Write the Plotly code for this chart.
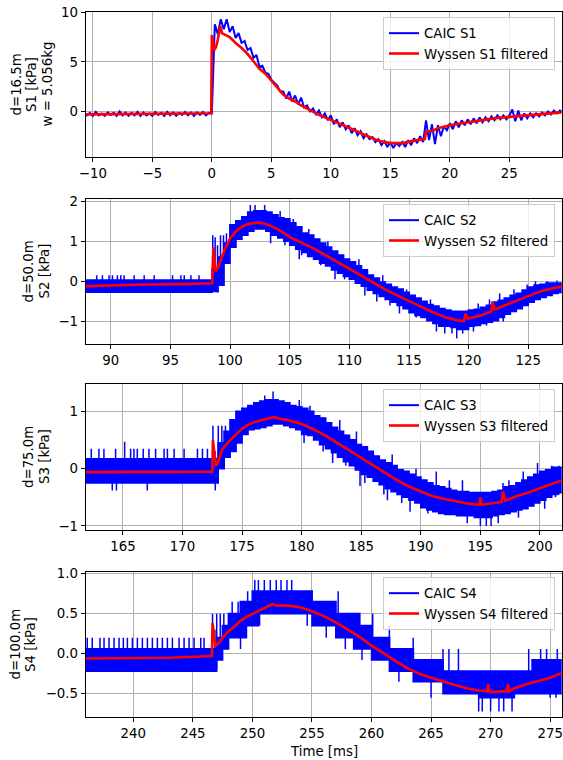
import numpy as np
import plotly.graph_objects as go

# ---------------- data ----------------
# Panel 1: CAIC S1 raw signal, sampled every 0.25 ms from -10.75 ms
S1_T0, S1_DT = -10.75, 0.25
S1_CAIC = [
    -0.1, -0.4, -0.15, -0.45, -0.05, -0.4, -0.2, -0.45, -0.1, -0.35,
    -0.15, -0.45, 0.0, -0.4, -0.1, -0.45, -0.15, -0.4, -0.05, -0.45,
    -0.1, -0.4, -0.2, -0.45, -0.05, -0.35, -0.15, -0.45, -0.05, -0.4,
    -0.1, -0.45, -0.15, -0.35, -0.05, -0.4, -0.1, -0.45, -0.1, -0.35,
    -0.05, -0.4, -0.15,
    -0.2,
    8.8, 7.8, 9.3, 8.3, 9.3, 8.0, 8.6, 7.4, 7.9, 6.9,
    7.1, 6.2, 6.4, 5.4, 5.7, 4.5, 4.6, 3.9, 3.8, 3.2,
    2.9, 2.6, 2.0, 2.0, 1.3, 2.0, 1.0, 1.6, 0.7, 1.4,
    0.4, 0.6, 0.0, 0.3, -0.3, 0.1, -0.6, -0.2, -0.9, -0.4,
    -1.3, -0.8, -1.6, -1.1, -1.8, -1.4, -2.2, -1.7, -2.4, -2.0,
    -2.7, -2.3, -2.8, -2.6, -3.1, -2.8, -3.4, -3.0, -3.6, -3.1,
    -3.7, -3.2, -3.5, -3.1, -3.6, -2.9, -3.4, -2.7, -3.2, -2.5,
    -3.1, -0.9, -2.9, -1.3, -3.3, -1.4, -2.5, -1.5, -1.9, -1.2,
    -1.8, -1.0, -1.6, -0.9, -1.4, -0.8, -1.3, -0.7, -1.2, -0.6,
    -1.1, -0.6, -1.0, -0.5, -0.9, -0.4, -0.8, -0.4, -0.8, -0.4,
    0.2, -1.0, 0.1, -0.9, -0.2, -0.7, -0.2, -0.6, -0.2, -0.5,
    -0.1, -0.4, 0.0, -0.3, 0.1, -0.2, 0.1, -0.1,
]
S1_WYS_T = [-10.6, -8, -5, -2, -0.05, 0.0, 0.1, 0.2, 0.35, 0.5, 0.7, 0.85, 1.0,
            1.5, 2.0, 2.5, 3.0, 3.5, 4.0, 4.5, 5.0, 5.5, 6.0, 6.5, 7.0, 7.5, 8.0,
            8.5, 9.0, 10.0, 11.0, 12.0, 13.0, 14.0, 15.0, 16.0, 17.0, 17.9, 18.0,
            18.5, 19.0, 20.0, 21.0, 22.0, 23.0, 24.0, 25.0, 26.0, 27.0, 28.0, 29.4]
S1_WYS = [-0.3, -0.28, -0.25, -0.22, -0.18, 7.7, 6.8, 6.2, 6.5, 7.2, 8.6, 7.9, 7.8,
          7.5, 6.9, 6.4, 5.8, 5.0, 4.3, 3.8, 3.1, 2.4, 1.7, 1.3, 1.0, 0.6, 0.3,
          0.0, -0.35, -0.85, -1.35, -1.9, -2.45, -2.95, -3.2, -3.2, -2.95, -2.8, -2.0,
          -2.0, -1.7, -1.4, -1.2, -1.0, -0.8, -0.65, -0.55, -0.45, -0.35, -0.3, -0.1]

# Panel 2: CAIC S2 band (upper / lower envelope every 0.5 ms from 87.5 ms)
S2_T0, S2_DT = 87.5, 0.5
S2_CAIC_HI = [
    0.03, 0.03, 0.03, 0.03, 0.03, 0.03, 0.03, 0.03, 0.03, 0.03, 0.03,
    0.03, 0.03, 0.03, 0.03, 0.03, 0.03, 0.03, 0.03, 0.03, 0.03, 0.03,
    0.3, 0.6, 0.95, 1.4, 1.5, 1.6, 1.72, 1.75, 1.75, 1.72, 1.65, 1.58,
    1.55, 1.45, 1.35, 1.2, 1.15, 1.05, 0.95, 0.85, 0.75, 0.65, 0.55, 0.48,
    0.38, 0.28, 0.15, 0.08, -0.02, -0.08, -0.15, -0.2, -0.28, -0.35, -0.42, -0.5,
    -0.58, -0.62, -0.68, -0.72, -0.75, -0.75, -0.75, -0.72, -0.7, -0.65, -0.6, -0.52,
    -0.48, -0.42, -0.35, -0.3, -0.22, -0.15, -0.1, -0.08, -0.05, -0.05, -0.05, -0.05,
]
S2_CAIC_LO = [
    -0.27, -0.27, -0.27, -0.27, -0.27, -0.27, -0.27, -0.27, -0.27, -0.27, -0.27,
    -0.27, -0.27, -0.27, -0.27, -0.27, -0.27, -0.27, -0.27, -0.27, -0.27, -0.27,
    -0.25, -0.1, 0.45, 0.85, 1.05, 1.15, 1.25, 1.3, 1.3, 1.25, 1.15, 1.08,
    1.0, 0.9, 0.8, 0.72, 0.62, 0.55, 0.45, 0.38, 0.28, 0.2, 0.12, 0.05,
    -0.05, -0.12, -0.22, -0.3, -0.38, -0.45, -0.52, -0.6, -0.68, -0.78, -0.85, -0.9,
    -0.98, -1.05, -1.12, -1.12, -1.15, -1.2, -1.2, -1.12, -1.1, -1.05, -1.02, -0.98,
    -0.9, -0.82, -0.75, -0.68, -0.6, -0.52, -0.45, -0.4, -0.35, -0.3, -0.28, -0.28,
]
# isolated raw-signal excursions: time, low end, high end
S2_SPIKE_T = [88.82, 89.3, 89.86, 90.14, 90.56, 90.84, 91.12, 91.96, 92.8, 93.64,
              95.18, 95.88, 96.16, 96.72, 97.4,
              98.55, 98.75, 98.95, 99.2, 99.45, 99.7,
              101.7, 102.1, 102.9, 104.6, 106.0, 107.6, 109.6, 113.4, 115.6,
              118.6, 119.0, 119.5, 120.4, 121.5, 121.75, 124.9, 125.6, 126.6, 127.4,
              104.2, 105.3, 106.6, 108.2, 110.8, 112.8, 114.8, 116.8, 120.8, 122.6, 123.8,
              103.4, 105.8, 108.8, 111.3, 112.3, 114.2, 117.3, 118.0, 122.9]
S2_SPIKE_LO = [0.0, 0.0, 0.0, 0.0, 0.0, 0.0, 0.0, 0.0, 0.0, 0.0,
               0.0, 0.0, 0.0, 0.0, 0.0,
               -0.25, -0.25, -0.28, 0.2, 0.4, 0.6,
               1.6, 1.6, 1.6, 0.9, 0.65, 0.4, 0.05, -0.6, -0.9,
               -1.3, -1.42, -1.3, -1.25, -1.1, -0.8, -0.3, -0.3, -0.2, -0.2,
               1.3, 1.2, 1.0, 0.7, 0.3, -0.1, -0.45, -0.7, -0.9, -0.7, -0.5,
               0.95, 0.55, 0.05, -0.35, -0.5, -0.8, -1.25, -1.3, -1.0]
S2_SPIKE_HI = [0.15, 0.15, 0.15, 0.15, 0.15, 0.15, 0.15, 0.15, 0.15, 0.15,
               0.15, 0.15, 0.15, 0.15, 0.15,
               1.15, 1.1, 0.9, 1.15, 1.15, 1.2,
               1.9, 1.9, 1.9, 1.3, 1.0, 0.7, 0.4, -0.3, -0.55,
               -1.0, -1.0, -1.0, -0.9, -0.8, -0.45, -0.08, 0.0, 0.0, 0.02,
               1.75, 1.55, 1.3, 1.0, 0.55, 0.15, -0.2, -0.45, -0.55, -0.3, -0.2,
               1.3, 0.9, 0.35, -0.05, -0.2, -0.5, -0.95, -1.0, -0.75]
S2_WYS_T = [87.9, 90, 93, 96, 98.5, 98.6, 98.8, 99.0, 99.5, 100, 100.5, 101, 101.5,
            102, 102.5, 103, 104, 105, 106, 107, 108, 109, 110, 111, 112, 113, 114,
            115, 116, 117, 118, 119, 119.6, 119.75, 119.9, 121, 121.9, 122.0, 122.2,
            123, 124, 125, 126, 127, 127.8]
S2_WYS = [-0.12, -0.1, -0.08, -0.07, -0.05, 0.85, 0.25, 0.35, 0.75, 1.07, 1.25, 1.36, 1.43,
          1.45, 1.46, 1.43, 1.3, 1.1, 0.96, 0.82, 0.65, 0.48, 0.3, 0.13, -0.03, -0.2, -0.35,
          -0.5, -0.63, -0.77, -0.89, -0.97, -0.99, -0.8, -0.93, -0.85, -0.75, -0.52, -0.7,
          -0.6, -0.48, -0.35, -0.25, -0.18, -0.13]

# Panel 3: CAIC S3 band (every 0.5 ms from 161.5 ms)
S3_T0, S3_DT = 161.5, 0.5
S3_CAIC_HI = [
    0.17, 0.17, 0.17, 0.17, 0.17, 0.17, 0.17, 0.17, 0.17, 0.17, 0.17,
    0.17, 0.17, 0.17, 0.17, 0.17, 0.17, 0.17, 0.17, 0.17, 0.17, 0.17,
    0.17, 0.45, 0.65, 0.85, 1.0, 1.05, 1.1, 1.15, 1.18, 1.2, 1.2, 1.18,
    1.15, 1.1, 1.08, 1.05, 1.0, 0.92, 0.88, 0.8, 0.72, 0.65, 0.58, 0.5,
    0.42, 0.38, 0.3, 0.22, 0.15, 0.1, 0.05, -0.02, -0.05, -0.1, -0.15, -0.2,
    -0.25, -0.3, -0.32, -0.35, -0.38, -0.4, -0.4, -0.42, -0.42, -0.42, -0.42, -0.4,
    -0.38, -0.32, -0.3, -0.25, -0.2, -0.15, -0.1, -0.05, -0.02, 0.02, 0.02, 0.02,
]
S3_CAIC_LO = [
    -0.25, -0.25, -0.25, -0.25, -0.25, -0.25, -0.25, -0.25, -0.25, -0.25, -0.25,
    -0.25, -0.25, -0.25, -0.25, -0.25, -0.25, -0.25, -0.25, -0.25, -0.25, -0.25,
    -0.25, 0.0, 0.2, 0.3, 0.45, 0.6, 0.68, 0.7, 0.72, 0.75, 0.78, 0.78,
    0.75, 0.72, 0.68, 0.6, 0.58, 0.5, 0.42, 0.35, 0.28, 0.2, 0.12, 0.05,
    -0.02, -0.1, -0.15, -0.22, -0.28, -0.35, -0.4, -0.45, -0.5, -0.55, -0.6, -0.68,
    -0.72, -0.75, -0.78, -0.8, -0.8, -0.82, -0.82, -0.82, -0.85, -0.85, -0.85, -0.82,
    -0.8, -0.78, -0.75, -0.72, -0.7, -0.65, -0.6, -0.55, -0.5, -0.45, -0.42, -0.42,
]
S3_SPIKE_T = [162.34, 162.98, 163.4, 164.38, 165.14, 165.64, 165.92, 166.2, 166.7,
              167.18, 167.74, 168.45, 168.73, 169.29, 170.13, 171.25, 171.67, 172.09,
              164.1, 164.45, 167.04,
              172.55, 172.75, 173.0, 173.3, 173.6,
              176.9, 177.6, 181.8, 183.7, 185.3, 186.9, 188.4, 189.6, 190.6, 191.3,
              192.4, 195.0, 195.5, 195.9, 196.5, 196.9, 197.4, 201.0, 201.3, 201.6,
              179.8, 180.7, 183.2, 184.6, 187.6, 193.5, 198.6, 199.8,
              180.2, 182.6, 184.9, 187.2, 189.1, 193.9, 198.2, 200.4]
S3_SPIKE_LO = [0.1, 0.1, 0.1, 0.1, 0.1, 0.1, 0.1, 0.1, 0.1,
               0.1, 0.1, 0.1, 0.1, 0.1, 0.1, 0.1, 0.1, 0.1,
               -0.38, -0.38, -0.38,
               -0.25, -0.38, 0.0, 0.1, 0.2,
               1.0, 1.0, 0.3, 0.05, -0.25, -0.45, -0.6, -0.5, -0.78, -0.7,
               -0.75, -1.0, -1.0, -1.0, -0.95, -0.6, -0.7, -0.4, -0.5, -0.45,
               0.8, 0.8, 0.5, 0.3, -0.1, -0.5, -0.3, -0.2,
               0.45, 0.1, -0.3, -0.55, -0.75, -0.95, -0.85, -0.7]
S3_SPIKE_HI = [0.35, 0.35, 0.35, 0.35, 0.47, 0.35, 0.35, 0.35, 0.35,
               0.35, 0.35, 0.35, 0.35, 0.35, 0.35, 0.35, 0.35, 0.35,
               -0.1, -0.1, -0.1,
               0.75, 0.3, 0.75, 0.75, 0.75,
               1.28, 1.35, 0.9, 0.6, 0.2, 0.1, -0.2, 0.0, -0.3, -0.05,
               -0.2, -0.5, -0.6, -0.6, -0.6, -0.25, -0.2, 0.05, -0.1, 0.05,
               1.2, 1.1, 0.85, 0.65, 0.25, -0.2, -0.05, 0.1,
               0.7, 0.4, 0.0, -0.3, -0.45, -0.7, -0.6, -0.4]
S3_WYS_T = [161.8, 165, 168, 172.5, 172.55, 172.8, 173.0, 173.3, 173.5, 174, 174.5, 175,
            175.5, 176, 177, 177.7, 178, 179, 180, 181, 182, 183, 184, 185, 186, 187,
            188, 189, 190, 191, 192, 193, 194, 194.9, 195.0, 195.1, 196, 196.8, 196.9,
            197.1, 198, 199, 200, 201, 201.9]
S3_WYS = [-0.06, -0.06, -0.05, -0.05, 0.5, 0.05, 0.12, 0.33, 0.38, 0.5, 0.6, 0.7,
          0.77, 0.81, 0.87, 0.9, 0.88, 0.84, 0.78, 0.69, 0.58, 0.45, 0.32, 0.19, 0.05, -0.08,
          -0.2, -0.31, -0.4, -0.48, -0.53, -0.57, -0.61, -0.63, -0.5, -0.63, -0.61, -0.58, -0.4,
          -0.56, -0.48, -0.42, -0.34, -0.26, -0.2]

# Panel 4: CAIC S4 band (every 0.5 ms from 235.5 ms)
S4_T0, S4_DT = 235.5, 0.5
S4_CAIC_HI = [
    0.06, 0.06, 0.06, 0.06, 0.06, 0.06, 0.06, 0.06, 0.06, 0.06, 0.06,
    0.06, 0.06, 0.06, 0.06, 0.06, 0.06, 0.06, 0.06, 0.06, 0.06, 0.06,
    0.06, 0.2, 0.35, 0.5, 0.5, 0.65, 0.65, 0.78, 0.78, 0.78, 0.78, 0.78,
    0.78, 0.78, 0.78, 0.78, 0.78, 0.65, 0.65, 0.65, 0.65, 0.5, 0.5, 0.5,
    0.5, 0.35, 0.35, 0.2, 0.2, 0.2, 0.06, 0.06, 0.06, 0.06, -0.08, -0.08,
    -0.08, -0.08, -0.08, -0.22, -0.22, -0.22, -0.22, -0.22, -0.22, -0.22, -0.22, -0.22,
    -0.22, -0.22, -0.22, -0.22, -0.22, -0.22, -0.08, -0.08, -0.08, -0.08, -0.08, -0.08,
]
S4_CAIC_LO = [
    -0.22, -0.22, -0.22, -0.22, -0.22, -0.22, -0.22, -0.22, -0.22, -0.22, -0.22,
    -0.22, -0.22, -0.22, -0.22, -0.22, -0.22, -0.22, -0.22, -0.22, -0.22, -0.22,
    -0.22, -0.08, 0.06, 0.2, 0.2, 0.2, 0.35, 0.35, 0.5, 0.5, 0.5, 0.5,
    0.5, 0.5, 0.5, 0.5, 0.5, 0.35, 0.35, 0.35, 0.35, 0.2, 0.2, 0.2,
    0.06, 0.06, 0.06, -0.08, -0.08, -0.08, -0.22, -0.22, -0.22, -0.22, -0.35, -0.35,
    -0.35, -0.35, -0.35, -0.5, -0.5, -0.5, -0.5, -0.5, -0.5, -0.55, -0.55, -0.55,
    -0.55, -0.55, -0.55, -0.5, -0.5, -0.5, -0.5, -0.5, -0.5, -0.5, -0.5, -0.5,
]
S4_SPIKE_T = [236.13, 236.55, 237.2, 237.54, 237.96, 238.38, 238.8, 239.16, 239.5,
              239.92, 240.34, 240.76, 241.18, 241.6, 242.02, 242.44, 242.86, 243.28,
              243.84, 244.26, 244.68, 245.1, 245.66, 245.94,
              246.65, 246.85, 247.0, 247.3, 247.6, 248.3, 248.8, 249.6,
              250.2, 250.5, 251.0, 251.5, 252.0, 252.4, 252.9, 253.3,
              249.0, 250.6, 254.6, 256.2, 257.8, 259.2,
              257.2, 260.1, 261.5, 263.5, 266.0, 266.5, 267.3,
              262.3, 265.0, 269.0, 269.3, 270.0, 270.7, 271.1, 271.8, 275.0, 275.5,
              273.2, 274.2, 274.7, 275.6]
S4_SPIKE_LO = [0.0] * 24 + [
    -0.22, -0.22, -0.2, 0.06, 0.06, 0.2, 0.2, 0.35,
    0.5, 0.5, 0.5, 0.5, 0.5, 0.5, 0.5, 0.5,
    0.06, 0.35, 0.35, 0.2, 0.06, -0.08,
    0.5, 0.2, 0.06, -0.08, -0.22, -0.22, -0.22,
    -0.35, -0.55, -0.72, -0.72, -0.72, -0.72, -0.72, -0.72, -0.55, -0.55,
    -0.3, -0.3, -0.3, -0.3]
S4_SPIKE_HI = [0.2] * 24 + [
    0.5, 0.3, 0.5, 0.5, 0.5, 0.65, 0.65, 0.78,
    0.92, 0.92, 0.92, 0.92, 0.92, 0.92, 0.92, 0.92,
    0.5, 0.6, 0.6, 0.5, 0.35, 0.2,
    0.78, 0.5, 0.35, 0.2, 0.06, 0.06, 0.06,
    -0.08, -0.2, -0.35, -0.35, -0.35, -0.35, -0.35, -0.35, -0.3, -0.3,
    0.06, 0.06, 0.06, 0.06]
S4_WYS_T = [236, 240, 243, 246.6, 246.65, 246.9, 247.1, 247.5, 248, 248.5, 249, 249.5,
            250, 250.5, 251, 251.7, 252, 253, 254, 255, 256, 257, 258, 259, 260, 261,
            262, 263, 264, 265, 266, 267, 268, 269, 269.7, 269.8, 269.9, 270, 271,
            271.35, 271.45, 271.55, 272, 273, 274, 275, 276]
S4_WYS = [-0.06, -0.05, -0.05, -0.03, 0.38, 0.1, 0.12, 0.2, 0.28, 0.34, 0.41, 0.46,
          0.5, 0.54, 0.57, 0.62, 0.6, 0.6, 0.58, 0.53, 0.47, 0.39, 0.3, 0.21, 0.1, 0.0,
          -0.09, -0.18, -0.25, -0.3, -0.35, -0.39, -0.43, -0.46, -0.47, -0.38, -0.47, -0.48,
          -0.47, -0.47, -0.38, -0.47, -0.43, -0.38, -0.34, -0.3, -0.24]

NAMES = ["S1", "S2", "S3", "S4"]
YLABEL_LINES = [["d=16.5m", "S1 [kPa]", "w = 5.056kg"], ["d=50.0m", "S2 [kPa]"],
                ["d=75.0m", "S3 [kPa]"], ["d=100.0m", "S4 [kPa]"]]
XRANGES = [[-10.6, 29.4], [87.9, 127.8], [161.87, 201.83], [236.0, 275.97]]
YRANGES = [[-4.6, 10.03], [-1.56, 2.05], [-1.07, 1.48], [-0.79, 1.02]]
YDTICK = [5, 1, 1, 0.5]
YFMT = ["d", "d", "d", ".1f"]

# ---------------- figure ----------------
W, H = 563, 760
FONT = "DejaVu Sans"
FS = 13.33
BLUE, RED = "#0000ff", "#ff0000"
XPIX = (85.7, 561.7)
YPIX = [(12, 157), (199, 344), (384, 530), (572, 717)]
YLAB_X = [[16, 31.5, 47], [28, 44], [28, 44], [15, 30.5]]

fig = go.Figure()


def grid_t(t0, dt, n):
    return t0 + dt * np.arange(n)


def segments(ts, lo, hi):
    xs, ys = [], []
    for t, a, b in zip(ts, lo, hi):
        xs += [t, t, None]
        ys += [a, b, None]
    return xs, ys


# panel 1
t1 = grid_t(S1_T0, S1_DT, len(S1_CAIC))
fig.add_trace(go.Scatter(x=t1, y=S1_CAIC, mode="lines", name="CAIC S1",
                         line=dict(color=BLUE, width=2), legend="legend",
                         xaxis="x", yaxis="y"))
fig.add_trace(go.Scatter(x=S1_WYS_T, y=S1_WYS, mode="lines", name="Wyssen S1 filtered",
                         line=dict(color=RED, width=2.6), legend="legend",
                         xaxis="x", yaxis="y"))

bands = [
    (S2_T0, S2_DT, S2_CAIC_HI, S2_CAIC_LO, S2_SPIKE_T, S2_SPIKE_LO, S2_SPIKE_HI, S2_WYS_T, S2_WYS),
    (S3_T0, S3_DT, S3_CAIC_HI, S3_CAIC_LO, S3_SPIKE_T, S3_SPIKE_LO, S3_SPIKE_HI, S3_WYS_T, S3_WYS),
    (S4_T0, S4_DT, S4_CAIC_HI, S4_CAIC_LO, S4_SPIKE_T, S4_SPIKE_LO, S4_SPIKE_HI, S4_WYS_T, S4_WYS),
]
for k, (t0, dt, hi, lo, st, slo, shi, wt, wv) in enumerate(bands):
    i = k + 1
    xs, ys = "x" + str(i + 1), "y" + str(i + 1)
    lg = "legend" + str(i + 1)
    tt = grid_t(t0, dt, len(hi))
    fig.add_trace(go.Scatter(x=tt, y=hi, mode="lines", name="CAIC " + NAMES[i],
                             line=dict(color=BLUE, width=2, shape="hv"),
                             legend=lg, xaxis=xs, yaxis=ys))
    fig.add_trace(go.Scatter(x=tt, y=lo, mode="lines", showlegend=False,
                             line=dict(color=BLUE, width=1.5, shape="hv"),
                             fill="tonexty", fillcolor=BLUE,
                             legend=lg, xaxis=xs, yaxis=ys))
    sx, sy = segments(st, slo, shi)
    fig.add_trace(go.Scatter(x=sx, y=sy, mode="lines", showlegend=False,
                             line=dict(color=BLUE, width=1.5), connectgaps=False,
                             legend=lg, xaxis=xs, yaxis=ys))
    fig.add_trace(go.Scatter(x=wt, y=wv, mode="lines", name="Wyssen " + NAMES[i] + " filtered",
                             line=dict(color=RED, width=2.6),
                             legend=lg, xaxis=xs, yaxis=ys))

layout = dict(
    width=W, height=H, autosize=False,
    margin=dict(l=0, r=0, t=0, b=0, pad=0),
    paper_bgcolor="white", plot_bgcolor="white",
    font=dict(family=FONT, size=FS, color="black"),
    showlegend=True,
)
xdom = [XPIX[0] / W, XPIX[1] / W]
annotations = []
for i in range(4):
    sfx = "" if i == 0 else str(i + 1)
    top, bot = YPIX[i]
    common = dict(showline=True, linecolor="black", linewidth=1, mirror=True,
                  ticks="outside", ticklen=4, tickwidth=1, tickcolor="black",
                  showgrid=True, gridcolor="#b0b0b0", gridwidth=1, zeroline=False,
                  automargin=False, tickfont=dict(family=FONT, size=FS, color="black"))
    layout["xaxis" + sfx] = dict(domain=xdom, range=XRANGES[i], dtick=5, tick0=0,
                                 anchor="y" + sfx, **common)
    layout["yaxis" + sfx] = dict(domain=[1 - bot / H, 1 - top / H], range=YRANGES[i],
                                 dtick=YDTICK[i], tick0=0, tickformat=YFMT[i],
                                 anchor="x" + sfx, **common)
    layout["legend" + sfx] = dict(
        x=555 / W, y=1 - (top + 5) / H, xanchor="right", yanchor="top",
        bgcolor="rgba(255,255,255,0.8)", bordercolor="#cccccc", borderwidth=1,
        font=dict(family=FONT, size=FS, color="black"), traceorder="normal",
    )
    for txt, xc in zip(YLABEL_LINES[i], YLAB_X[i]):
        annotations.append(dict(text=txt, textangle=-90, showarrow=False,
                                xref="paper", yref="paper", x=xc / W,
                                y=1 - (top + bot) / 2 / H, xanchor="center", yanchor="middle",
                                font=dict(family=FONT, size=FS, color="black")))
annotations.append(dict(text="Time [ms]", showarrow=False, xref="paper", yref="paper",
                        x=(XPIX[0] + XPIX[1]) / 2 / W, y=1 - 751 / H,
                        xanchor="center", yanchor="middle",
                        font=dict(family=FONT, size=FS, color="black")))
layout["annotations"] = annotations
fig.update_layout(**layout)

# remove the browser's default 8px body margin so the figure fills the window
fig.write_html("out.html",
               config={"displayModeBar": False},
               post_script="document.body.style.margin='0px';"
                           "document.body.style.overflow='hidden';")
